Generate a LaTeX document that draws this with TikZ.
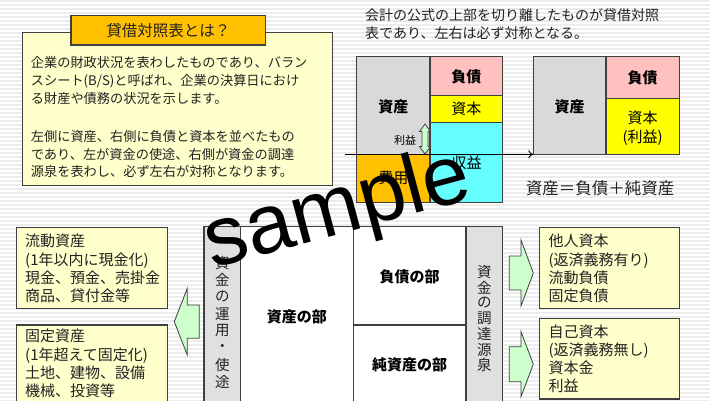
\documentclass[tikz,border=0pt]{standalone}
\usepackage{fontspec}
\usetikzlibrary{arrows.meta}
\setmainfont{Noto Sans CJK JP}
\newfontfamily\wmfont{Liberation Sans}
\definecolor{bord}{HTML}{404040}
\definecolor{ltyel}{HTML}{FFFFCC}
\definecolor{ttlor}{HTML}{FFC000}
\definecolor{bsgray}{HTML}{D9D9D9}
\definecolor{bspink}{HTML}{FFC0C0}
\definecolor{bsyel}{HTML}{FFFF00}
\definecolor{bscyan}{HTML}{66FFFF}
\definecolor{stripgray}{HTML}{E0E0E0}
\definecolor{arrgreen}{HTML}{CCFFCC}
\definecolor{stripe}{HTML}{ECECEC}
\definecolor{txt}{HTML}{222222}
\begin{document}
\begin{tikzpicture}[x=1pt,y=-1pt,
  box/.style={draw=bord,line width=1.2pt},
  barrow/.style={draw=bord,line width=0.8pt,fill=arrgreen},
  para/.style={anchor=north west,align=left,inner sep=0pt,text=txt},
  lbl/.style={inner sep=0pt,font=\fontsize{15}{15}\selectfont},
  blbl/.style={inner sep=0pt,font=\fontsize{15}{15}\selectfont\bfseries},
  vch/.style={inner sep=0pt,text=txt,font=\fontsize{14.5}{14.5}\selectfont}]
\useasboundingbox (0,0) rectangle (710,401);
\clip (0,0) rectangle (710,401);
% background stripes
\fill[white] (0,0) rectangle (710,401);
\foreach \yy in {0,4,...,400} \fill[stripe] (0,\yy) rectangle (710,\yy+2);

% ---- top left explanation box
\draw[box,fill=ltyel] (22.3,32.3) rectangle (332.7,185.7);
\draw[box,fill=ttlor] (71,15.7) rectangle (265.7,45);
\node[inner sep=0pt,text=txt,font=\fontsize{15.5}{15.5}\selectfont] (title) at (168.4,30.6) {貸借対照表とは？};
\node[para,font=\fontsize{13.2}{17.9}\selectfont] (p1) at (30.7,56.2)
  {企業の財政状況を表わしたものであり、バラン\\スシート(B/S)と呼ばれ、企業の決算日におけ\\る財産や債務の状況を示します。};
\node[para,font=\fontsize{13.2}{17.6}\selectfont] (p2) at (30.7,130.2)
  {左側に資産、右側に負債と資本を並べたもの\\であり、左が資金の使途、右側が資金の調達\\源泉を表わし、必ず左右が対称となります。};

% ---- top right text
\node[para,font=\fontsize{14}{18}\selectfont] (p3) at (365,8)
  {会計の公式の上部を切り離したものが貸借対照\\表であり、左右は必ず対称となる。};

% ---- left balance sheet
\draw[box,fill=bsgray] (356.7,56.7) rectangle (430,154.3);
\draw[box,fill=bspink] (430,56.7) rectangle (502.7,95.7);
\draw[box,fill=bsyel] (430,95.7) rectangle (502.7,122.3);
\draw[box,fill=bscyan] (430,122.3) rectangle (502.7,202.3);
\draw[box,fill=ttlor] (356.7,154.3) rectangle (430,202.3);
\node[blbl] (lasset) at (393.3,106.7) {資産};
\node[blbl] (lliab) at (466.3,76.7) {負債};
\node[lbl] (lcap) at (466.3,108.7) {資本};
\node[lbl] (lrev) at (466.7,163) {収益};
\node[lbl] (lexp) at (393.3,178) {費用};
\node[inner sep=0pt,font=\fontsize{11}{11}\selectfont] (lprofit) at (405,140) {利益};
\draw[barrow] (425,124) -- (430.5,131.5) -- (428,131.5) -- (428,146.5) -- (430.5,146.5)
  -- (425,154) -- (419.5,146.5) -- (422,146.5) -- (422,131.5) -- (419.5,131.5) -- cycle;

% ---- right balance sheet
\draw[box,fill=bsgray] (533.3,56.7) rectangle (606,154.3);
\draw[box,fill=bspink] (606,56.7) rectangle (679.3,98.3);
\draw[box,fill=bsyel] (606,98.3) rectangle (679.3,154.3);
\node[blbl] (rasset) at (569.7,106.7) {資産};
\node[blbl] (rliab) at (642.7,78.3) {負債};
\node[lbl] (rcap) at (642.7,118.3) {資本};
\node[lbl] (rprofit) at (642.7,137.3) {(利益)};
\coordinate (lineL) at (345,154.3);
\coordinate (lineR) at (533.3,154.3);
\draw[line width=0.9pt,-{To[length=5pt,width=8pt]}] (lineL) -- (lineR);
\node[inner sep=0pt,text=txt,font=\fontsize{16.5}{16.5}\selectfont] (formula) at (600,188) {資産＝負債＋純資産};

% ---- bottom: big sheet
\draw[box,fill=stripgray] (204,226.7) rectangle (240.7,410);
\draw[box,fill=white] (240.7,226.7) rectangle (353.3,410);
\draw[box,fill=white] (353.3,226.7) rectangle (466,325);
\draw[box,fill=white] (353.3,325) rectangle (466,410);
\draw[box,fill=stripgray] (466,226.7) rectangle (502.7,410);
\node[blbl] (bassets) at (296.9,316.7) {資産の部};
\node[blbl] (bliab) at (409.7,276.7) {負債の部};
\node[blbl] (bnet) at (409.7,365) {純資産の部};
\foreach \c [count=\i from 0] in {資,金,の,運,用,・,使,途}
  \node[vch] (lv\i) at (222.3,263+17*\i) {\c};
\foreach \c [count=\i from 0] in {資,金,の,調,達,源,泉}
  \node[vch] (rv\i) at (484.3,271.7+15.6*\i) {\c};

% ---- bottom left boxes
\draw[box,fill=ltyel] (16.7,227.7) rectangle (167.7,308.3);
\draw[box,fill=ltyel] (16.7,325) rectangle (167.7,410);
\node[para,font=\fontsize{15}{18.3}\selectfont] (curA) at (25,234)
  {流動資産\\(1年以内に現金化)\\現金、預金、売掛金\\商品、貸付金等};
\node[para,font=\fontsize{15}{18.3}\selectfont] (fixA) at (25,329)
  {固定資産\\(1年超えて固定化)\\土地、建物、設備\\機械、投資等};
\draw[barrow] (174.3,321.7) -- (187.3,288.3) -- (187.3,305) -- (199.3,305)
  -- (199.3,338.3) -- (187.3,338.3) -- (187.3,355) -- cycle;

% ---- bottom right boxes
\draw[box,fill=ltyel] (539.3,227.3) rectangle (679.3,308.3);
\draw[box,fill=ltyel] (539.3,318.3) rectangle (679.3,399);
\node[para,font=\fontsize{15}{18.2}\selectfont] (other) at (548.3,234)
  {他人資本\\(返済義務有り)\\流動負債\\固定負債};
\node[para,font=\fontsize{15}{18.2}\selectfont] (own) at (548.3,324.2)
  {自己資本\\(返済義務無し)\\資本金\\利益};
\draw[barrow] (533.3,273) -- (521,240) -- (521,256) -- (509.3,256) -- (509.3,290)
  -- (521,290) -- (521,306) -- cycle;
\draw[barrow] (533.3,364.2) -- (521,331.7) -- (521,346.7) -- (509.3,346.7) -- (509.3,381.7)
  -- (521,381.7) -- (521,396.7) -- cycle;

% ---- watermark
\node[inner sep=0pt,rotate=15,font=\wmfont\fontsize{84}{84}\selectfont] (wmark) at (338,212) {sample};
\end{tikzpicture}
\end{document}
